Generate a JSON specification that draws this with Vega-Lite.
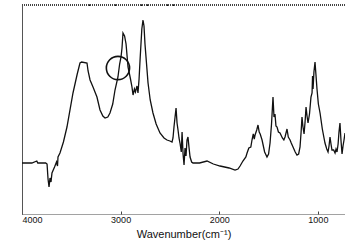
{
  "$schema": "https://vega.github.io/schema/vega-lite/v6.json",
  "width": 323,
  "height": 209,
  "autosize": {"type": "none"},
  "padding": {"left": 22, "top": 5, "right": 0, "bottom": 37},
  "background": "white",
  "view": {"stroke": null},
  "config": {"font": "Liberation Sans"},
  "datasets": {
    "spec": [
      {"wn": 4000, "t": 51}, {"wn": 3900, "t": 51}, {"wn": 3850, "t": 53}, {"wn": 3840, "t": 51},
      {"wn": 3760, "t": 51}, {"wn": 3746, "t": 50}, {"wn": 3736, "t": 35}, {"wn": 3726, "t": 27},
      {"wn": 3716, "t": 36}, {"wn": 3706, "t": 32}, {"wn": 3696, "t": 41}, {"wn": 3670, "t": 47},
      {"wn": 3650, "t": 52}, {"wn": 3640, "t": 48}, {"wn": 3635, "t": 57}, {"wn": 3615, "t": 61},
      {"wn": 3580, "t": 72}, {"wn": 3544, "t": 87}, {"wn": 3483, "t": 121}, {"wn": 3440, "t": 140},
      {"wn": 3412, "t": 151}, {"wn": 3395, "t": 152}, {"wn": 3341, "t": 151}, {"wn": 3330, "t": 143},
      {"wn": 3310, "t": 134}, {"wn": 3280, "t": 127}, {"wn": 3240, "t": 117}, {"wn": 3209, "t": 104},
      {"wn": 3180, "t": 98}, {"wn": 3158, "t": 96}, {"wn": 3130, "t": 97}, {"wn": 3108, "t": 101},
      {"wn": 3080, "t": 110}, {"wn": 3057, "t": 124}, {"wn": 3027, "t": 137}, {"wn": 3010, "t": 150},
      {"wn": 2996, "t": 157}, {"wn": 2986, "t": 166}, {"wn": 2976, "t": 181}, {"wn": 2960, "t": 178},
      {"wn": 2945, "t": 170}, {"wn": 2925, "t": 147}, {"wn": 2900, "t": 135}, {"wn": 2885, "t": 127},
      {"wn": 2874, "t": 119}, {"wn": 2860, "t": 125}, {"wn": 2850, "t": 122}, {"wn": 2834, "t": 128},
      {"wn": 2824, "t": 121}, {"wn": 2813, "t": 135}, {"wn": 2803, "t": 154}, {"wn": 2785, "t": 185},
      {"wn": 2773, "t": 194}, {"wn": 2763, "t": 188}, {"wn": 2753, "t": 170}, {"wn": 2722, "t": 131},
      {"wn": 2700, "t": 114}, {"wn": 2672, "t": 101}, {"wn": 2640, "t": 90}, {"wn": 2601, "t": 81},
      {"wn": 2560, "t": 76}, {"wn": 2530, "t": 74}, {"wn": 2500, "t": 73}, {"wn": 2479, "t": 72},
      {"wn": 2469, "t": 76}, {"wn": 2459, "t": 87}, {"wn": 2448, "t": 97}, {"wn": 2438, "t": 106},
      {"wn": 2428, "t": 91}, {"wn": 2418, "t": 84}, {"wn": 2408, "t": 76}, {"wn": 2398, "t": 71},
      {"wn": 2385, "t": 62}, {"wn": 2377, "t": 82}, {"wn": 2367, "t": 60}, {"wn": 2357, "t": 49},
      {"wn": 2347, "t": 66}, {"wn": 2337, "t": 58}, {"wn": 2327, "t": 74}, {"wn": 2317, "t": 77},
      {"wn": 2306, "t": 66}, {"wn": 2296, "t": 57}, {"wn": 2280, "t": 52}, {"wn": 2266, "t": 51},
      {"wn": 2200, "t": 51}, {"wn": 2124, "t": 53}, {"wn": 2060, "t": 50}, {"wn": 1992, "t": 48},
      {"wn": 1900, "t": 46}, {"wn": 1840, "t": 44}, {"wn": 1810, "t": 45}, {"wn": 1789, "t": 48},
      {"wn": 1760, "t": 53}, {"wn": 1730, "t": 57}, {"wn": 1718, "t": 61}, {"wn": 1700, "t": 66},
      {"wn": 1680, "t": 67}, {"wn": 1668, "t": 74}, {"wn": 1655, "t": 80}, {"wn": 1645, "t": 75},
      {"wn": 1637, "t": 79}, {"wn": 1620, "t": 84}, {"wn": 1607, "t": 89}, {"wn": 1595, "t": 82},
      {"wn": 1585, "t": 80}, {"wn": 1566, "t": 74}, {"wn": 1540, "t": 62}, {"wn": 1516, "t": 57},
      {"wn": 1500, "t": 60}, {"wn": 1485, "t": 71}, {"wn": 1470, "t": 90}, {"wn": 1455, "t": 117},
      {"wn": 1445, "t": 97}, {"wn": 1435, "t": 100}, {"wn": 1425, "t": 88}, {"wn": 1414, "t": 87},
      {"wn": 1400, "t": 82}, {"wn": 1384, "t": 81}, {"wn": 1360, "t": 76}, {"wn": 1345, "t": 74},
      {"wn": 1333, "t": 77}, {"wn": 1313, "t": 85}, {"wn": 1300, "t": 77}, {"wn": 1282, "t": 74},
      {"wn": 1270, "t": 71}, {"wn": 1252, "t": 67}, {"wn": 1230, "t": 62}, {"wn": 1212, "t": 59},
      {"wn": 1195, "t": 60}, {"wn": 1181, "t": 67}, {"wn": 1170, "t": 82}, {"wn": 1161, "t": 97},
      {"wn": 1151, "t": 87}, {"wn": 1140, "t": 80}, {"wn": 1130, "t": 92}, {"wn": 1120, "t": 107},
      {"wn": 1110, "t": 98}, {"wn": 1100, "t": 91}, {"wn": 1085, "t": 100}, {"wn": 1070, "t": 117},
      {"wn": 1059, "t": 121}, {"wn": 1054, "t": 138}, {"wn": 1049, "t": 125}, {"wn": 1040, "t": 142},
      {"wn": 1029, "t": 152}, {"wn": 1020, "t": 140}, {"wn": 1009, "t": 125}, {"wn": 995, "t": 110},
      {"wn": 978, "t": 101}, {"wn": 955, "t": 85}, {"wn": 928, "t": 71}, {"wn": 910, "t": 65},
      {"wn": 897, "t": 62}, {"wn": 887, "t": 68}, {"wn": 877, "t": 77}, {"wn": 867, "t": 70},
      {"wn": 857, "t": 64}, {"wn": 840, "t": 64}, {"wn": 826, "t": 61}, {"wn": 816, "t": 65},
      {"wn": 806, "t": 62}, {"wn": 795, "t": 70}, {"wn": 786, "t": 82}, {"wn": 776, "t": 91},
      {"wn": 766, "t": 74}, {"wn": 755, "t": 60}, {"wn": 745, "t": 68}, {"wn": 735, "t": 74},
      {"wn": 725, "t": 81}
    ],
    "mark": [{"wn": 3027, "t": 146}]
  },
  "layer": [
    {
      "data": {"name": "spec"},
      "mark": {"type": "rule", "color": "#444", "strokeDash": [1, 1], "strokeWidth": 1},
      "encoding": {"y": {"datum": 209, "type": "quantitative", "scale": {"domain": [0, 209]}}}
    },
    {
      "data": {"name": "spec"},
      "mark": {"type": "line", "color": "#111", "strokeWidth": 1.3, "clip": true},
      "encoding": {
        "x": {
          "field": "wn", "type": "quantitative",
          "scale": {"domain": [4000, 725], "nice": false, "zero": false},
          "axis": {
            "values": [4000, 3000, 2000, 1000],
            "format": "d",
            "title": "Wavenumber(cm\u207b\u00b9)",
            "titleFontSize": 11, "titleFontWeight": "normal", "titleColor": "#111",
            "titlePadding": 4,
            "labelFontSize": 9, "labelColor": "#111", "labelDx": -4, "labelPadding": 4,
            "domainColor": "#444", "domainDash": [1, 1], "domainWidth": 1,
            "tickColor": "#444", "tickSize": -3, "grid": false
          }
        },
        "y": {
          "field": "t", "type": "quantitative",
          "scale": {"domain": [0, 209], "nice": false, "zero": false},
          "axis": {
            "title": null, "labels": false, "ticks": false, "grid": false,
            "domainColor": "#555", "domainWidth": 1
          }
        }
      }
    },
    {
      "data": {"name": "mark"},
      "mark": {"type": "point", "shape": "circle", "size": 540, "filled": false, "opacity": 1, "stroke": "#111", "strokeWidth": 1.6},
      "encoding": {
        "x": {"field": "wn", "type": "quantitative"},
        "y": {"field": "t", "type": "quantitative"}
      }
    }
  ]
}
